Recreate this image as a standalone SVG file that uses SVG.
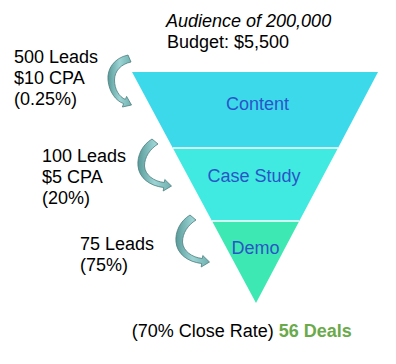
<svg xmlns="http://www.w3.org/2000/svg" width="396" height="364" viewBox="0 0 396 364">
<defs>
<linearGradient id="ag" x1="0" y1="0" x2="1" y2="0">
<stop offset="0" stop-color="#5A9A9A"/>
<stop offset="0.5" stop-color="#9CD4D4"/>
<stop offset="1" stop-color="#6FB0B0"/>
</linearGradient>
<style>
text{font-family:"Liberation Sans",Arial,sans-serif;font-size:18px;fill:#000}
.lbl{fill:#2A55C8;text-anchor:middle}
.arr{fill:url(#ag);stroke:#4C7E7E;stroke-width:0.8;stroke-linejoin:round}
.sep{stroke:#FFFFFF;stroke-width:1.5}
</style>
</defs>
<rect width="396" height="364" fill="#FFFFFF"/>
<g id="header">
<text x="166" y="27" font-style="italic">Audience of 200,000</text>
<text x="167" y="48">Budget: $5,500</text>
</g>
<g id="funnel-content">
<polygon points="132,72 378,72 338,148 172.8,148" fill="#3CD9EB"/>
<text class="lbl" x="257.5" y="110">Content</text>
</g>
<g id="funnel-case-study">
<polygon points="172.8,148 338,148 299.3,221 212,221" fill="#40EAE0"/>
<text class="lbl" x="254" y="182">Case Study</text>
</g>
<g id="funnel-demo">
<polygon points="212,221 299.3,221 256,303" fill="#3EE8B2"/>
<text class="lbl" x="255.5" y="254">Demo</text>
</g>
<g id="separators">
<line class="sep" x1="172.8" y1="148" x2="338" y2="148"/>
<line class="sep" x1="212" y1="221" x2="299.3" y2="221"/>
</g>
<g id="connectors">
<path class="arr" d="M128,55 C114,58 107,69 108,80 C109,92 116,101 123.6,103.6 L122.4,107 L131.5,105 L126.6,96.4 L125.4,99.4 C119,97 114.5,89 114.5,80 C114.5,71 121,64 131,62 Z"/>
<path class="arr" d="M152,139 C142,145 137,156 138,166 C139,178 150,186 163.7,187.5 L163.2,191 L171.5,186 L164.8,179.5 L164.3,182.5 C154,181.5 145,175 144.5,166 C144.5,157 150,149 158,144 Z"/>
<path class="arr" transform="translate(38,76)" d="M152,139 C142,145 137,156 138,166 C139,178 150,186 163.7,187.5 L163.2,191 L171.5,186 L164.8,179.5 L164.3,182.5 C154,181.5 145,175 144.5,166 C144.5,157 150,149 158,144 Z"/>
</g>
<g id="stage1-text">
<text x="14" y="63">500 Leads</text>
<text x="14" y="84">$10 CPA</text>
<text x="14" y="105">(0.25%)</text>
</g>
<g id="stage2-text">
<text x="42" y="162">100 Leads</text>
<text x="42" y="183">$5 CPA</text>
<text x="42" y="204">(20%)</text>
</g>
<g id="stage3-text">
<text x="80" y="250">75 Leads</text>
<text x="80" y="271">(75%)</text>
</g>
<g id="result">
<text x="131.7" y="337">(70% Close Rate) <tspan font-weight="bold" fill="#6BAA4A">56 Deals</tspan></text>
</g>
</svg>
